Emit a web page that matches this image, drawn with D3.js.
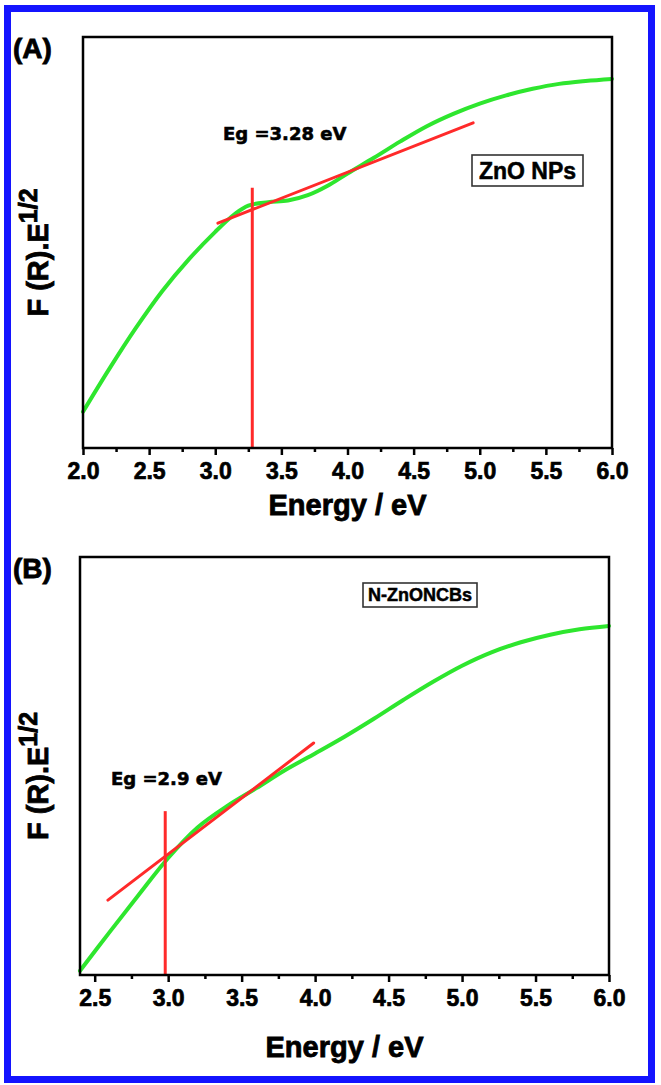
<!DOCTYPE html>
<html><head><meta charset="utf-8">
<script src="https://cdn.jsdelivr.net/npm/d3@7"></script>
<style>body{margin:0;background:#fff}svg{display:block}</style>
</head><body>
<svg id="c" width="661" height="1085"></svg>
<script>
// ---- Panel A data (ZnO NPs) ----
const energyA = [2.0,2.2,2.4,2.6,2.8,3.0,3.15,3.25,3.4,3.55,3.7,3.85,4.0,4.2,4.4,4.6,4.8,5.0,5.2,5.4,5.6,5.8,6.0];
const valueA  = [8.8,19.3,29.2,38.2,45.9,52.6,57.0,59.0,59.8,60.2,61.5,63.8,66.8,70.6,74.6,78.3,81.3,83.8,85.8,87.4,88.6,89.3,89.8];
const tangentAE = [3.02, 4.95];
const tangentAV = [54.7, 79.1];
const gapAE = 3.28, gapATop = 63.3;
const ticksA = [2.0,2.5,3.0,3.5,4.0,4.5,5.0,5.5,6.0];
const minorA = [2.25,2.75,3.25,3.75,4.25,4.75,5.25,5.75];

// ---- Panel B data (N-ZnONCBs) ----
const energyB = [2.4,2.6,2.8,3.0,3.2,3.4,3.6,3.8,4.0,4.2,4.4,4.6,4.8,5.0,5.2,5.4,5.6,5.8,6.0];
const valueB  = [1.0,10.2,19.2,28.0,35.3,40.4,44.7,49.1,53.0,57.0,61.3,65.8,70.1,74.0,77.2,79.6,81.4,82.7,83.5];
const tangentBE = [2.59, 3.99];
const tangentBV = [17.9, 55.5];
const gapBE = 2.98, gapBTop = 39.2;
const ticksB = [2.5,3.0,3.5,4.0,4.5,5.0,5.5,6.0];
const minorB = [2.75,3.25,3.75,4.25,4.75,5.25,5.75];

const svg = d3.select("#c");
svg.append("rect").attr("x",0).attr("y",0).attr("width",661).attr("height",1085).attr("fill","#fff");
svg.append("rect").attr("x",7.5).attr("y",8.5).attr("width",644).attr("height",1071)
  .attr("fill","none").attr("stroke","#1414ff").attr("stroke-width",7);

const ARIAL = "'Liberation Sans', Arial, sans-serif";
const DEJA = "'DejaVu Sans', Verdana, sans-serif";
const GREEN = "#2ee62e", RED = "#ff2a2a";

function heavy(sel, w){ return sel.attr("stroke","#000").attr("stroke-width",w).attr("paint-order","stroke"); }

function panel(o){
  const x = d3.scaleLinear().domain(o.xDomain).range(o.xRange);
  const y = d3.scaleLinear().domain([0,100]).range(o.yRange);
  const g = svg.append("g");
  const [x0,x1] = o.xRange, [yb,yt] = o.yRange;

  g.append("g").attr("transform",`translate(0,${yb})`)
    .call(d3.axisBottom(x).tickValues(o.minor).tickSize(4).tickFormat(""))
    .call(a=>{a.select(".domain").remove(); a.selectAll("line").attr("stroke","#000").attr("stroke-width",2.5);});
  g.append("g").attr("transform",`translate(0,${yb})`)
    .call(d3.axisBottom(x).tickValues(o.ticks).tickSize(7).tickPadding(8).tickFormat(d3.format(".1f")))
    .call(a=>{a.select(".domain").remove();
      a.selectAll("line").attr("stroke","#000").attr("stroke-width",2.5);
      heavy(a.selectAll("text").attr("fill","#000").style("font-family",ARIAL).style("font-weight","bold").style("font-size","23px"),0.7);});

  const pts = o.E.map((e,i)=>[e,o.V[i]]);
  g.append("path").datum(pts)
    .attr("d", d3.line().x(d=>x(d[0])).y(d=>y(d[1])).curve(d3.curveCatmullRom.alpha(0.5)))
    .attr("fill","none").attr("stroke",GREEN).attr("stroke-width",4).attr("stroke-linecap","round");

  g.append("line").attr("x1",x(o.tE[0])).attr("y1",y(o.tV[0])).attr("x2",x(o.tE[1])).attr("y2",y(o.tV[1]))
    .attr("stroke",RED).attr("stroke-width",3).attr("stroke-linecap","round");
  g.append("line").attr("x1",x(o.gE)).attr("y1",y(0)).attr("x2",x(o.gE)).attr("y2",y(o.gTop))
    .attr("stroke",RED).attr("stroke-width",3);

  g.append("rect").attr("x",x0).attr("y",yt).attr("width",x1-x0).attr("height",yb-yt)
    .attr("fill","none").attr("stroke","#000").attr("stroke-width",2.5);

  heavy(g.append("text").attr("x",(x0+x1)/2).attr("y",yb+o.titleOff).attr("text-anchor","middle")
    .style("font-family",ARIAL).style("font-weight","bold").style("font-size","29px").text("Energy / eV"),0.8);

  const yl = g.append("text").attr("transform",`translate(48,${(yb+yt)/2+10}) rotate(-90)`)
    .attr("text-anchor","middle").style("font-family",ARIAL).style("font-weight","bold").style("font-size","29px");
  heavy(yl,0.8);
  yl.append("tspan").text("F (R).E");
  yl.append("tspan").attr("dy",-11).style("font-size","25px").text("1/2");

  heavy(g.append("text").attr("x",13).attr("y",yt+21).style("font-family",ARIAL).style("font-weight","bold")
    .style("font-size","28px").text(o.letter),0.8);

  heavy(g.append("text").attr("x",o.egX).attr("y",o.egY).style("font-family",DEJA).style("font-weight","bold")
    .style("font-size","18px").text(o.egText),0.6);

  const lb = o.box;
  g.append("rect").attr("x",lb.x).attr("y",lb.y).attr("width",lb.w).attr("height",lb.h)
    .attr("fill","#fff").attr("stroke","#333").attr("stroke-width",1.6);
  heavy(g.append("text").attr("x",lb.x+lb.w/2).attr("y",lb.y+lb.h/2).attr("dy","0.36em").attr("text-anchor","middle")
    .style("font-family",ARIAL).style("font-weight","bold").style("font-size",lb.fs+"px").text(lb.text),0.5);
}

panel({xDomain:[2,6], xRange:[83,612], yRange:[448,37], E:energyA, V:valueA, tE:tangentAE, tV:tangentAV,
  gE:gapAE, gTop:gapATop, ticks:ticksA, minor:minorA, titleOff:67, letter:"(A)",
  egX:223, egY:140, egText:"Eg =3.28 eV",
  box:{x:472,y:155,w:111,h:31,text:"ZnO NPs",fs:23}});
panel({xDomain:[2.4,6], xRange:[80,609], yRange:[975,557], E:energyB, V:valueB, tE:tangentBE, tV:tangentBV,
  gE:gapBE, gTop:gapBTop, ticks:ticksB, minor:minorB, titleOff:82, letter:"(B)",
  egX:111, egY:785, egText:"Eg =2.9 eV",
  box:{x:363,y:583,w:114,h:24,text:"N-ZnONCBs",fs:18}});
</script>
</body></html>
